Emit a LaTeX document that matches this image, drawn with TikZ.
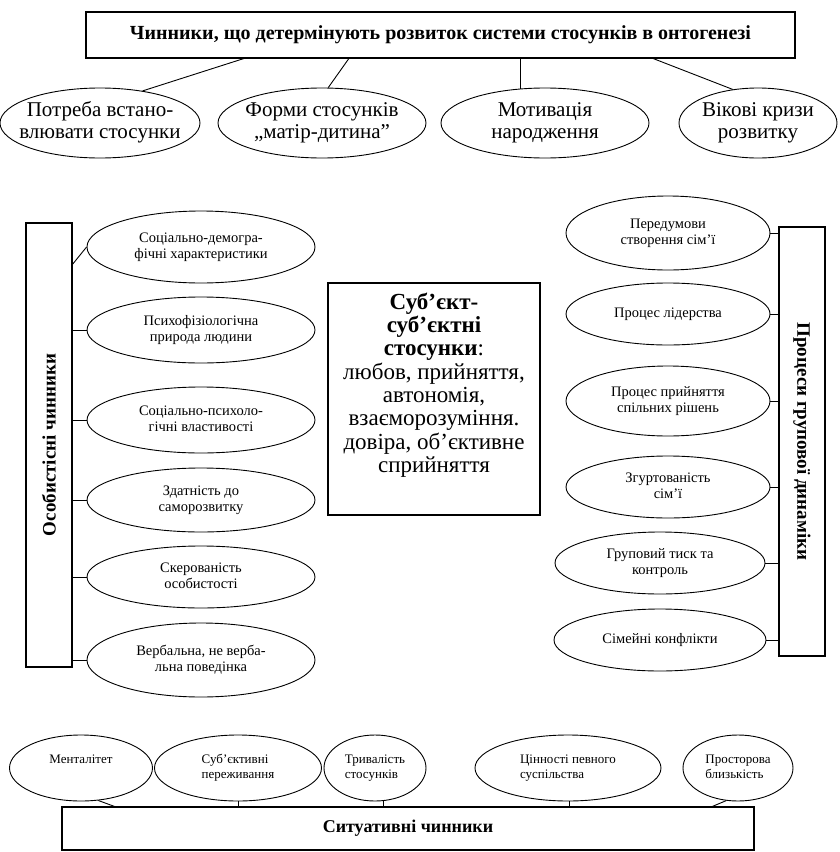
\documentclass[tikz,border=0pt]{standalone}
\usepackage{fontspec}
\setmainfont{Liberation Serif}
\usetikzlibrary{shapes.geometric,calc}
\newcommand{\zt}[1]{\makebox[0pt]{\begin{tabular}{@{}c@{}}#1\end{tabular}}}
\newcommand{\zl}[1]{\makebox[0pt]{\begin{tabular}{@{}l@{}}#1\end{tabular}}}
\tikzset{
  ell/.style={draw, ellipse, inner sep=0pt, line width=0.9pt,
    font=\fontsize{14.5}{16.5}\selectfont},
  bigell/.style={ell, font=\fontsize{21}{22}\selectfont},
  botell/.style={ell, font=\fontsize{13}{15.5}\selectfont},
  boxnode/.style={draw, line width=1.2pt, inner sep=0pt},
  conn/.style={line width=0.9pt},
  vtext/.style={font=\fontsize{19}{22}\selectfont\bfseries},
}
\begin{document}
\begin{tikzpicture}[x=1pt,y=-1pt]
\useasboundingbox (0,0) rectangle (839,852);

% ---------- top ----------
\node[boxnode, minimum width=709pt, minimum height=46pt,
  font=\fontsize{20}{22}\selectfont\bfseries] (tbox) at (440.5,35)
  {Чинники, що детермінують розвиток системи стосунків в онтогенезі};

\node[bigell, minimum width=200pt, minimum height=70pt] (e1) at (100,123) {\zt{Потреба встано-\\влювати стосунки}};
\node[bigell, minimum width=208pt, minimum height=70pt] (e2) at (322,123) {\zt{Форми стосунків\\„матір-дитина”}};
\node[bigell, minimum width=208pt, minimum height=70pt] (e3) at (545,123) {\zt{Мотивація\\народження}};
\node[bigell, minimum width=158pt, minimum height=70pt] (e4) at (758,123) {\zt{Вікові кризи\\розвитку}};

\draw[conn] ($(tbox.south west)!0.2228!(tbox.south east)$) -- (e1.37);
\draw[conn] ($(tbox.south west)!0.3709!(tbox.south east)$) -- (e2.80);
\draw[conn] (tbox.south -| e3.125) -- (e3.125);
\draw[conn] ($(tbox.south west)!0.7997!(tbox.south east)$) -- (e4.127);

% ---------- left ----------
\node[boxnode, minimum width=46pt, minimum height=444pt] (lbox) at (49,445) {};
\node[vtext, rotate=90] (ltext) at (lbox.center) {Особистісні чинники};

\node[ell, minimum width=228pt, minimum height=72pt] (l1) at (201,247) {\zt{Соціально-демогра-\\фічні характеристики}};
\node[ell, minimum width=228pt, minimum height=66pt] (l2) at (201,330) {\zt{Психофізіологічна\\природа людини}};
\node[ell, minimum width=228pt, minimum height=66pt] (l3) at (201,420) {\zt{Соціально-психоло-\\гічні властивості}};
\node[ell, minimum width=228pt, minimum height=64pt] (l4) at (201,500) {\zt{Здатність до\\саморозвитку}};
\node[ell, minimum width=228pt, minimum height=62pt] (l5) at (201,577) {\zt{Скерованість\\особистості}};
\node[ell, minimum width=228pt, minimum height=74pt] (l6) at (201,660) {\zt{Вербальна, не верба-\\льна поведінка}};

\coordinate (lc1) at (72,265);
\draw[conn] (lc1) -- (l1.west);
\draw[conn] (lbox.east |- l2.west) -- (l2.west);
\draw[conn] (lbox.east |- l3.west) -- (l3.west);
\draw[conn] (lbox.east |- l4.west) -- (l4.west);
\draw[conn] (lbox.east |- l5.west) -- (l5.west);
\draw[conn] (lbox.east |- l6.west) -- (l6.west);

% ---------- centre ----------
\node[boxnode, minimum width=212pt, minimum height=232pt] (cbox) at (434,399) {};
\node[align=center, inner sep=0pt, font=\fontsize{23}{23.3}\selectfont] (ctext) at (434,385)
  {\textbf{Суб’єкт-}\\\textbf{суб’єктні}\\\textbf{стосунки}:\\любов, прийняття,\\автономія,\\взаєморозуміння.\\довіра, об’єктивне\\сприйняття};

% ---------- right ----------
\node[boxnode, minimum width=46pt, minimum height=429pt] (rbox) at (802,441.5) {};
\node[vtext, rotate=-90] (rtext) at (rbox.center) {Процеси групової динаміки};

\node[ell, minimum width=204pt, minimum height=74pt] (r1) at (668,233) {\zt{Передумови\\створення сім’ї}};
\node[ell, minimum width=204pt, minimum height=62pt] (r2) at (668,314) {\zt{Процес лідерства}};
\node[ell, minimum width=204pt, minimum height=70pt] (r3) at (668,401) {\zt{Процес прийняття\\спільних рішень}};
\node[ell, minimum width=204pt, minimum height=62pt] (r4) at (668,487) {\zt{Згуртованість\\сім’ї}};
\node[ell, minimum width=210pt, minimum height=62pt] (r5) at (660,563) {\zt{Груповий тиск та\\контроль}};
\node[ell, minimum width=212pt, minimum height=62pt] (r6) at (660,640) {\zt{Сімейні конфлікти}};

\draw[conn] (r1.east) -- (rbox.west |- r1.east);
\draw[conn] (r2.east) -- (rbox.west |- r2.east);
\draw[conn] (r3.east) -- (rbox.west |- r3.east);
\draw[conn] (r4.east) -- (rbox.west |- r4.east);
\draw[conn] (r5.east) -- (rbox.west |- r5.east);
\draw[conn] (r6.east) -- (rbox.west |- r6.east);

% ---------- bottom ----------
\node[boxnode, minimum width=692pt, minimum height=43pt,
  font=\fontsize{18}{20}\selectfont\bfseries] (bbox) at (408,828.5) {Ситуативні чинники};

\node[botell, minimum width=143pt, minimum height=66pt] (b1) at (81,768) {\zl{Менталітет\\\strut}};
\node[botell, minimum width=167pt, minimum height=66pt] (b2) at (238,768) {\zl{Суб’єктивні\\переживання}};
\node[botell, minimum width=102pt, minimum height=66pt] (b3) at (375,768) {\zl{Тривалість\\стосунків}};
\node[botell, minimum width=186pt, minimum height=66pt] (b4) at (568,768) {\zl{Цінності певного\\суспільства}};
\node[botell, minimum width=110pt, minimum height=66pt] (b5) at (738,768) {\zl{Просторова\\близькість}};

\coordinate (bc1) at (116,807);
\coordinate (bc5) at (711,807);
\draw[conn] (b1.-62) -- (bc1);
\draw[conn] (b2.south) -- (bbox.north -| b2.south);
\draw[conn] (b3.-75) -- (bbox.north -| b3.-75);
\draw[conn] (b4.-87) -- (bbox.north -| b4.-87);
\draw[conn] (b5.-110) -- (bc5);
\end{tikzpicture}
\end{document}
